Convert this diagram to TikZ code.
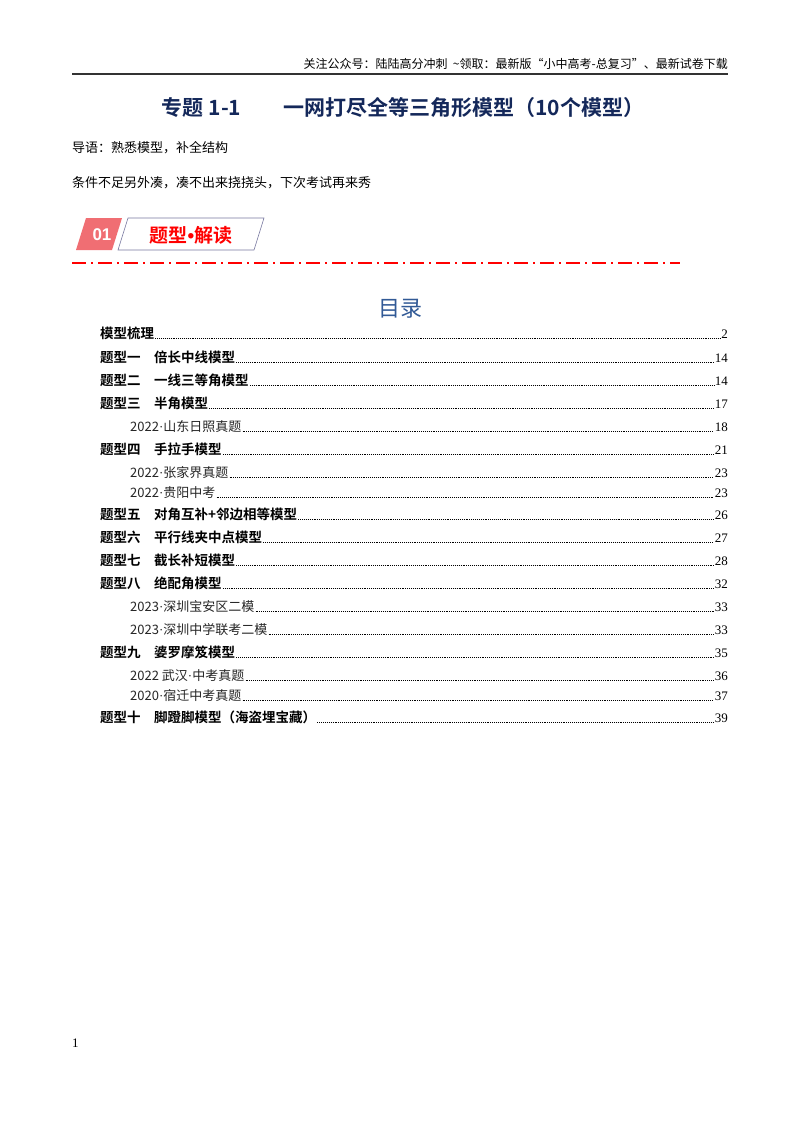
\documentclass[tikz,border=0pt]{standalone}
\usepackage{fontspec}
\setmainfont{Liberation Serif}
\newfontfamily\cjk{Noto Sans CJK SC}
\newfontfamily\cjkb{Noto Sans CJK SC Bold}
\newfontfamily\sans{Liberation Sans}
\newcommand{\md}{{\fontspec{Liberation Serif}\char"00B7}}
\definecolor{navy}{RGB}{20,40,90}
\definecolor{badge}{RGB}{240,110,115}
\definecolor{bord}{RGB}{120,120,160}
\definecolor{tocblue}{RGB}{50,90,150}
\begin{document}
\begin{tikzpicture}[x=1pt,y=-1pt,
  hd/.style={inner sep=0pt,font=\fontsize{12}{12}\cjk},
  tb/.style={inner sep=0pt,anchor=base west,font=\fontsize{13.5}{13}\cjkb},
  ts/.style={inner sep=0pt,anchor=base west,font=\fontsize{13}{13}\cjk\color{black!85}},
  pn/.style={inner sep=0pt,anchor=base east,font=\fontsize{13}{13}\selectfont},
  lead/.style={line width=0.6pt,dash pattern=on 0.6pt off 1.3pt}]
\useasboundingbox (0,0) rectangle (800,1132);
\fill[white] (0,0) rectangle (800,1132);
\node[hd,anchor=base east] (hdr) at (728,69) {关注公众号：陆陆高分冲刺\ \ \textasciitilde 领取：最新版“小中高考-总复习”、最新试卷下载};
\draw[line width=1.5pt,black!80] (72,74) -- (728,74);
\node[inner sep=0pt,font=\fontsize{21}{21}\cjkb,text=navy] (title) at (403,108) {专题 1-1\qquad 一网打尽全等三角形模型（10个模型）};
\node[inner sep=0pt,anchor=west,font=\fontsize{13}{13}\cjk] (i1) at (72,148) {导语：熟悉模型，补全结构};
\node[inner sep=0pt,anchor=west,font=\fontsize{13}{13}\cjk] (i2) at (72,183) {条件不足另外凑，凑不出来挠挠头，下次考试再来秀};
% badge
\fill[badge] (86,218) -- (122,218) -- (112,250) -- (76,250) -- cycle;
\node[font=\fontsize{17}{17}\sans\bfseries,text=white] (b1) at (102,235) {01};
\draw[bord,line width=0.6pt] (128,218) -- (264,218) -- (254,250) -- (118,250) -- cycle;
\node[font=\fontsize{19}{19}\cjkb,text=red] (b2) at (191,235) {题型{\sans\bfseries\char"2022}解读};
\draw[red,line width=1.8pt,dash pattern=on 14pt off 5pt on 2pt off 5pt] (72,263) -- (680,263);
\node[inner sep=0pt,font=\fontsize{22}{22}\cjk,text=tocblue] (toc) at (400,309) {目录};
\foreach \n/\y/\t/\p/\s in {
 1/338/模型梳理/2/tb,
 2/362/题型一\quad 倍长中线模型/14/tb,
 3/385/题型二\quad 一线三等角模型/14/tb,
 4/408/题型三\quad 半角模型/17/tb,
 5/431/2022\md 山东日照真题/18/ts,
 6/454/题型四\quad 手拉手模型/21/tb,
 7/477/2022\md 张家界真题/23/ts,
 8/497/2022\md 贵阳中考/23/ts,
 9/519/题型五\quad 对角互补+邻边相等模型/26/tb,
 10/542/题型六\quad 平行线夹中点模型/27/tb,
 11/565/题型七\quad 截长补短模型/28/tb,
 12/588/题型八\quad 绝配角模型/32/tb,
 13/611/2023\md 深圳宝安区二模/33/ts,
 14/634/2023\md 深圳中学联考二模/33/ts,
 15/657/题型九\quad 婆罗摩笈模型/35/tb,
 16/680/2022 武汉\md 中考真题/36/ts,
 17/700/2020\md 宿迁中考真题/37/ts,
 18/722/题型十\quad 脚蹬脚模型（海盗埋宝藏）/39/tb}{
  \ifnum\pdfstrcmp{\s}{tb}=0 \def\xx{100}\else\def\xx{130}\fi
  \node[\s] (e\n) at (\xx,\y) {\t};
  \node[pn] (p\n) at (728,\y) {\p};
  \draw[lead] ([xshift=1pt]e\n.base east) -- ([xshift=-1pt]p\n.base west);
}
\node[inner sep=0pt,anchor=base west,font=\fontsize{13}{13}\selectfont] (pg) at (72,1047) {1};
\end{tikzpicture}
\end{document}
